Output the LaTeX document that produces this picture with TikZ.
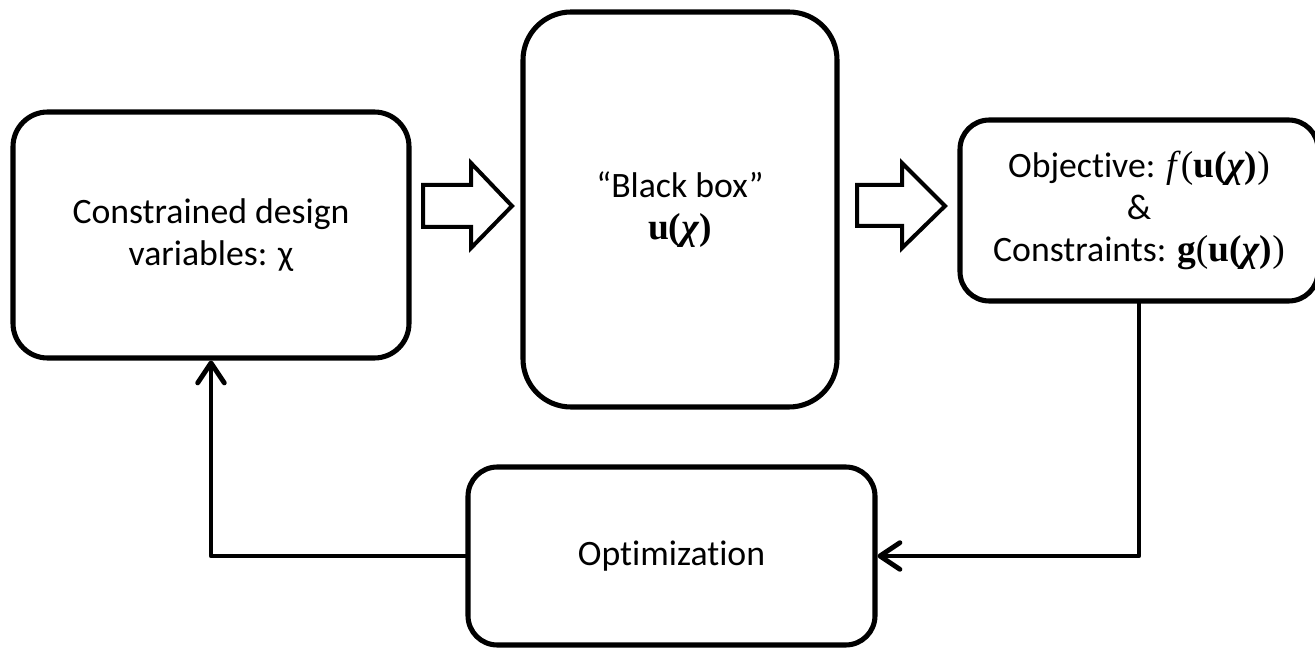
\documentclass[tikz,border=0pt]{standalone}
\usepackage{fontspec}
\setmainfont[Ligatures={NoCommon}]{Carlito}
\newfontfamily\tnr[Scale=1.05]{Liberation Serif}
\usetikzlibrary{arrows.meta}
\begin{document}
\begin{tikzpicture}[x=0.75pt,y=-0.75pt,
  box/.style={draw=black,line width=3.8pt,rectangle,align=center,inner sep=0pt,
    font=\fontsize{26.8pt}{31.5pt}\selectfont},
  conn/.style={draw=black,line width=3.6pt,line cap=round,line join=round,
    -{Straight Barb[length=15pt,width=20pt,line cap=round,line join=round]}},
  blockarrow/.style={draw=black,line width=3pt,fill=white,line join=miter}]
\useasboundingbox (0,0) rectangle (1315,649);
\node[box,rounded corners=26pt,minimum width=297pt,minimum height=184.5pt] (design) at (211,235)
  {Constrained design\\variables: χ};
\node[box,rounded corners=36pt,minimum width=235.5pt,minimum height=296.25pt] (bb) at (680,209.5)
  {“Black box”\\{\tnr\bfseries u(\textit{χ})}};
\node[box,rounded corners=22pt,minimum width=268.5pt,minimum height=135.75pt] (obj) at (1139,210.5)
  {Objective: {\tnr\textit{f}(\textbf{u(\textit{χ})})}\\\&\\Constraints: {\tnr\textbf{g}(\textbf{u(\textit{χ})})}};
\node[box,rounded corners=22pt,minimum width=305.25pt,minimum height=133.5pt] (opt) at (671.5,556)
  {Optimization};
% block arrows
\draw[blockarrow] (423,185) -- (471,185) -- (471,163) -- (512,206) -- (471,248) -- (471,227) -- (423,227) -- cycle;
\draw[blockarrow] (857,185) -- (902,185) -- (902,163) -- (945,206) -- (902,248) -- (902,226) -- (857,226) -- cycle;
% connectors
\draw[conn] (obj.south) |- (opt.east);
\draw[conn] (opt.west) -| (design.south);
\end{tikzpicture}
\end{document}
